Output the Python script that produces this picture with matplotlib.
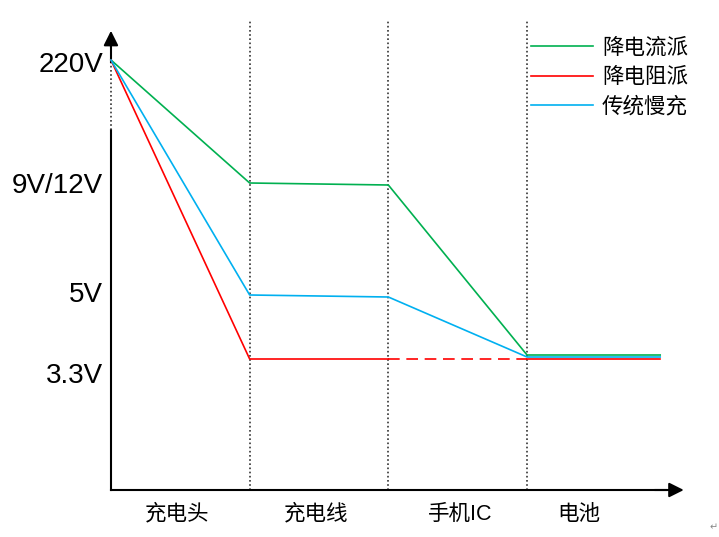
import matplotlib.pyplot as plt

plt.rcParams["font.family"] = ["Liberation Sans", "Noto Sans CJK SC", "DejaVu Sans"]

# 示意图数据（纵轴为示意电压高度）
stages = ["充电头", "充电线", "手机IC", "电池"]
stage_label_x = [0.48, 1.48, 2.52, 3.37]
boundaries = [1, 2, 3]
points_x = [0, 1, 2, 3, 3.96]

green_y = [4.30, 3.07, 3.05, 1.35, 1.35]   # 降电流派
blue_y = [4.30, 1.95, 1.93, 1.33, 1.33]    # 传统慢充
red_y = [4.30, 1.31, 1.31, 1.31, 1.31]     # 降电阻派

volt_labels = ["220V", "9V/12V", "5V", "3.3V"]
volt_label_y = [4.25, 3.04, 1.95, 1.14]

GREEN = "#00B050"
RED = "#FF0000"
BLUE = "#00B0F0"

fig = plt.figure(figsize=(7.19, 5.37), dpi=100)
ax = fig.add_axes([0, 0, 1, 1])
ax.set_xlim(-0.800, 4.384)
ax.set_ylim(-0.47, 4.90)
ax.axis("off")

# 阶段分隔线
for b in boundaries:
    ax.plot([b, b], [0, 4.70], color="#333333", lw=1.2, ls=(0, (1, 1.5)))

# 坐标轴
ax.plot([0, 4.0], [0, 0], color="black", lw=1.5)
ax.annotate("", xy=(4.15, 0), xytext=(3.9, 0),
            arrowprops=dict(arrowstyle="-|>", color="black", lw=1.5, mutation_scale=22))
ax.plot([0, 0], [0, 3.60], color="black", lw=1.5)
ax.plot([0, 0], [3.60, 4.28], color="#333333", lw=1.2, ls=(0, (1, 1.5)))
ax.plot([0, 0], [4.28, 4.45], color="black", lw=1.5)
ax.annotate("", xy=(0, 4.62), xytext=(0, 4.40),
            arrowprops=dict(arrowstyle="-|>", color="black", lw=1.5, mutation_scale=22))

# 三条曲线
ax.plot(points_x, green_y, color=GREEN, lw=1.2, label="降电流派")
ax.plot(points_x[:3], red_y[:3], color=RED, lw=1.2, label="降电阻派")
ax.plot(points_x[2:4], red_y[2:4], color=RED, lw=1.2, ls=(0, (7, 4)))
ax.plot(points_x[3:], red_y[3:], color=RED, lw=1.2)
ax.plot(points_x, blue_y, color=BLUE, lw=1.2, label="传统慢充")

for lab, y in zip(volt_labels, volt_label_y):
    ax.text(-0.058, y, lab, ha="right", va="center", fontsize=20)

for lab, x in zip(stages, stage_label_x):
    ax.text(x, -0.24, lab, ha="center", va="center", fontsize=15.5)

ax.legend(loc="upper left", bbox_to_anchor=(531 / 719, 1 - 38 / 537),
          frameon=False, fontsize=15.5, handlelength=2.9, handletextpad=0.4,
          borderpad=0, borderaxespad=0, labelspacing=0.38)

ax.text(0.992, 0.018, "↵", transform=fig.transFigure, ha="center", va="center",
        fontsize=7, color="#888888", family=["DejaVu Sans"])

fig.savefig("out.png", dpi=100)
